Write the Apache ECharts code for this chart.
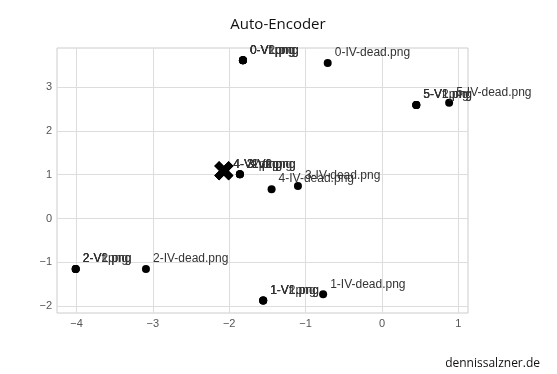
<!DOCTYPE html>
<html><head><meta charset="utf-8">
<script src="https://cdn.jsdelivr.net/npm/echarts@6/dist/echarts.min.js"></script>
<style>html,body{margin:0;padding:0;background:#fff}#c{width:557px;height:374px}</style>
</head><body><div id="c"></div>
<script>
// Scatter points (embedding coordinates) and their file-name labels
const pointX = [-1.82, -1.82, -1.82, -1.82, -0.71, 0.45, 0.45, 0.45, 0.88, -1.86, -1.86, -1.86, -1.445, -1.10, -4.01, -4.01, -4.01, -3.09, -1.555, -1.555, -1.555, -0.77];
const pointY = [3.61, 3.61, 3.61, 3.61, 3.55, 2.59, 2.59, 2.59, 2.64, 1.01, 1.01, 1.01, 0.67, 0.74, -1.15, -1.15, -1.15, -1.15, -1.87, -1.87, -1.87, -1.73];
const pointLabels = ["0-V1.png", "0-V2.png", "0-Vi.png", "0-Vf.png", "0-IV-dead.png",
  "5-V1.png", "5-V2.png", "5-Vf.png", "5-IV-dead.png",
  "3-V1.png", "3-V2.png", "3-Vf.png", "4-IV-dead.png", "3-IV-dead.png",
  "2-V1.png", "2-V2.png", "2-Vf.png", "2-IV-dead.png",
  "1-V1.png", "1-V2.png", "1-Vf.png", "1-IV-dead.png"];
// Highlighted (cross) point
const crossX = [-2.07];
const crossY = [1.09];
const crossLabels = ["4-V1.png", "4-V2.png", "4-Vf.png"];
// Axis ticks
const xTicks = [-4, -3, -2, -1, 0, 1];
const yTicks = [-2, -1, 0, 1, 2, 3];

const fmt = v => (v < 0 ? '\u2212' + Math.abs(v) : String(v));
const labelStyle = {show: true, position: 'right', distance: 3, offset: [0, -10], color: '#333', fontSize: 12, fontFamily: 'Liberation Sans, Arial, sans-serif', formatter: p => p.data[2]};

const chart = echarts.init(document.getElementById('c'), null, {renderer: 'canvas'});
chart.setOption({
  animation: false,
  backgroundColor: '#fff',
  title: {text: 'Auto-Encoder', left: 273, top: 12, textAlign: 'center',
    textStyle: {fontFamily: 'Open Sans, sans-serif', fontSize: 15, fontWeight: 'normal', color: '#111'}},
  graphic: [{type: 'text', right: 17, bottom: 4, style: {text: 'dennissalzner.de', fontFamily: 'Open Sans, sans-serif', fontSize: 12, fill: '#111'}}],
  grid: {left: 57, top: 48, right: 89, bottom: 61, show: true, borderColor: '#cccccc', borderWidth: 1, backgroundColor: '#fff'},
  xAxis: {type: 'value', min: -4.255, max: 1.127,
    axisLine: {show: false}, axisTick: {show: false, customValues: xTicks},
    axisLabel: {customValues: xTicks, formatter: fmt, color: '#555', fontSize: 11, fontFamily: 'Liberation Sans, Arial, sans-serif', margin: 5},
    splitLine: {show: true, lineStyle: {color: '#dddddd', width: 1}}},
  yAxis: {type: 'value', min: -2.155, max: 3.89,
    axisLine: {show: false}, axisTick: {show: false, customValues: yTicks},
    axisLabel: {customValues: yTicks, formatter: fmt, color: '#555', fontSize: 11, fontFamily: 'Liberation Sans, Arial, sans-serif', margin: 5},
    splitLine: {show: true, lineStyle: {color: '#dddddd', width: 1}}},
  series: [
    {type: 'scatter', symbol: 'circle', symbolSize: 8, itemStyle: {color: '#000', opacity: 1},
      data: pointX.map((x, i) => [x, pointY[i], pointLabels[i]]), label: labelStyle},
    {type: 'scatter', symbol: 'path://M5,0 L10,5 L15,0 L20,5 L15,10 L20,15 L15,20 L10,15 L5,20 L0,15 L5,10 L0,5 Z',
      symbolSize: 19, itemStyle: {color: '#000', opacity: 1},
      data: crossLabels.map(l => [crossX[0], crossY[0], l]), label: Object.assign({}, labelStyle, {distance: 0, offset: [0, -6]})}
  ]
});
</script></body></html>
